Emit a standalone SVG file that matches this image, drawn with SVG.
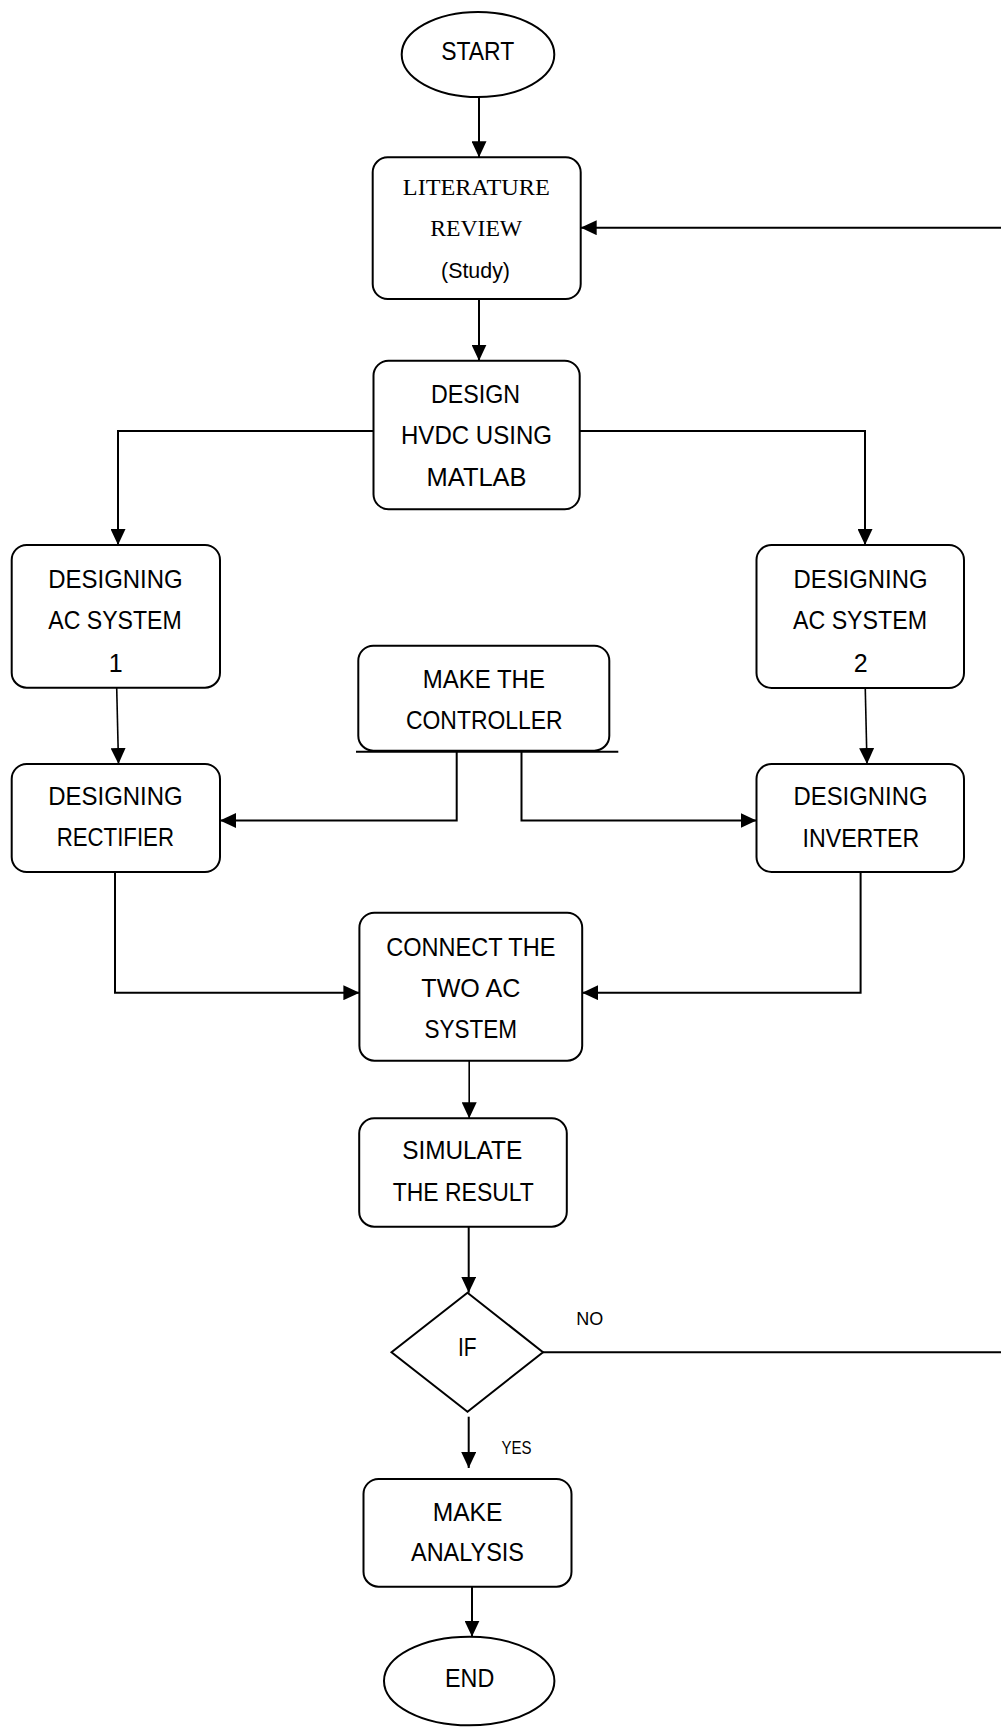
<svg xmlns="http://www.w3.org/2000/svg" width="1001" height="1729" viewBox="0 0 1001 1729">
  <style>
    .box{fill:#fff;stroke:#000;stroke-width:2}
    .conn{fill:none;stroke:#000;stroke-width:2}
    .thin{fill:none;stroke:#000;stroke-width:1.6}
    text{font-family:"Liberation Sans",Arial,sans-serif;font-size:25px;fill:#000;text-anchor:middle}
    .serif{font-family:"Liberation Serif","Times New Roman",serif;font-size:23px}
    .small{font-size:18px}
  </style>
  <defs>
    <marker id="arr" viewBox="0 0 16 15" refX="16" refY="7.5" markerWidth="16" markerHeight="15" markerUnits="userSpaceOnUse" orient="auto">
      <path d="M0,0 L16,7.5 L0,15 Z" fill="#000"/>
    </marker>
  </defs>
  <rect width="1001" height="1729" fill="#fff"/>

  <g id="connectors">
    <path class="conn" d="M479,97 V157.3" marker-end="url(#arr)"/>
    <path class="conn" d="M1001,227.7 H580.7" marker-end="url(#arr)"/>
    <path class="conn" d="M479,299 V360.7" marker-end="url(#arr)"/>
    <path class="conn" d="M373.5,431 H118 V545" marker-end="url(#arr)"/>
    <path class="conn" d="M579.7,431 H865 V545" marker-end="url(#arr)"/>
    <path class="thin" d="M116.7,687.7 L118.5,764" marker-end="url(#arr)"/>
    <path class="thin" d="M865,677 L867,764" marker-end="url(#arr)"/>
    <path class="conn" d="M456.7,751.7 V820.5 H220" marker-end="url(#arr)"/>
    <path class="conn" d="M521.5,751.7 V820.5 H756.5" marker-end="url(#arr)"/>
    <path class="conn" d="M115,872 V992.7 H359.4" marker-end="url(#arr)"/>
    <path class="conn" d="M860.6,872 V992.7 H582.2" marker-end="url(#arr)"/>
    <path class="thin" d="M469.2,1060.7 V1118.3" marker-end="url(#arr)"/>
    <path class="conn" d="M468.7,1226.7 V1292.7" marker-end="url(#arr)"/>
    <path class="conn" d="M543,1352.3 H1001"/>
    <path class="conn" d="M468.7,1416.7 V1468" marker-end="url(#arr)"/>
    <path class="conn" d="M472,1584 V1636.7" marker-end="url(#arr)"/>
  </g>

  <g id="start">
    <ellipse class="box" cx="478" cy="54.5" rx="76.3" ry="42.5"/>
    <text x="477.7" y="60" textLength="73" lengthAdjust="spacingAndGlyphs">START</text>
  </g>

  <g id="literature">
    <rect class="box" x="372.7" y="157.3" width="208" height="141.7" rx="15"/>
    <text class="serif" x="476.3" y="195" textLength="147" lengthAdjust="spacingAndGlyphs">LITERATURE</text>
    <text class="serif" x="476.2" y="235.7" textLength="92" lengthAdjust="spacingAndGlyphs">REVIEW</text>
    <text x="475.5" y="277.5" style="font-size:22px" textLength="69" lengthAdjust="spacingAndGlyphs">(Study)</text>
  </g>

  <g id="design">
    <rect class="box" x="373.5" y="360.7" width="206.2" height="148.6" rx="15"/>
    <text x="475.5" y="403.3" textLength="89" lengthAdjust="spacingAndGlyphs">DESIGN</text>
    <text x="476.5" y="444.3" textLength="151" lengthAdjust="spacingAndGlyphs">HVDC USING</text>
    <text x="476.6" y="485.7" textLength="100" lengthAdjust="spacingAndGlyphs">MATLAB</text>
  </g>

  <g id="ac1">
    <rect class="box" x="11.7" y="545" width="208.3" height="142.7" rx="15"/>
    <text x="115.5" y="588" textLength="134.4" lengthAdjust="spacingAndGlyphs">DESIGNING</text>
    <text x="115" y="629" textLength="133.4" lengthAdjust="spacingAndGlyphs">AC SYSTEM</text>
    <text x="115.8" y="671.5">1</text>
  </g>

  <g id="ac2">
    <rect class="box" x="756.5" y="545" width="207.5" height="143" rx="15"/>
    <text x="860.5" y="588" textLength="134" lengthAdjust="spacingAndGlyphs">DESIGNING</text>
    <text x="860" y="629" textLength="134" lengthAdjust="spacingAndGlyphs">AC SYSTEM</text>
    <text x="860.8" y="671.5">2</text>
  </g>

  <g id="controller">
    <rect class="box" x="358.3" y="645.7" width="251" height="105" rx="15"/>
    <line x1="356" y1="751.7" x2="618.3" y2="751.7" stroke="#000" stroke-width="2"/>
    <text x="483.8" y="687.5" textLength="122.3" lengthAdjust="spacingAndGlyphs">MAKE THE</text>
    <text x="484.3" y="729" textLength="156.7" lengthAdjust="spacingAndGlyphs">CONTROLLER</text>
  </g>

  <g id="rectifier">
    <rect class="box" x="11.7" y="764" width="208.3" height="108" rx="15"/>
    <text x="115.5" y="805" textLength="134.4" lengthAdjust="spacingAndGlyphs">DESIGNING</text>
    <text x="115.3" y="846.3" textLength="117.3" lengthAdjust="spacingAndGlyphs">RECTIFIER</text>
  </g>

  <g id="inverter">
    <rect class="box" x="756.5" y="764" width="207.5" height="108" rx="15"/>
    <text x="860.5" y="805" textLength="134" lengthAdjust="spacingAndGlyphs">DESIGNING</text>
    <text x="860.9" y="846.5" textLength="116.8" lengthAdjust="spacingAndGlyphs">INVERTER</text>
  </g>

  <g id="connect">
    <rect class="box" x="359.4" y="912.7" width="222.8" height="148" rx="15"/>
    <text x="470.8" y="955.7" textLength="169.2" lengthAdjust="spacingAndGlyphs">CONNECT THE</text>
    <text x="470.8" y="996.7" textLength="99" lengthAdjust="spacingAndGlyphs">TWO AC</text>
    <text x="470.8" y="1038.3" textLength="92.6" lengthAdjust="spacingAndGlyphs">SYSTEM</text>
  </g>

  <g id="simulate">
    <rect class="box" x="359.2" y="1118.3" width="207.6" height="108.4" rx="15"/>
    <text x="462.2" y="1159.3" textLength="120" lengthAdjust="spacingAndGlyphs">SIMULATE</text>
    <text x="463.3" y="1200.7" textLength="141" lengthAdjust="spacingAndGlyphs">THE RESULT</text>
  </g>

  <g id="decision">
    <polygon class="box" points="467.5,1292.7 543,1352.2 467.5,1411.7 391.5,1352.2"/>
    <text x="467.3" y="1355.7" textLength="18.6" lengthAdjust="spacingAndGlyphs">IF</text>
  </g>

  <g id="labels">
    <text class="small" x="589.8" y="1325" textLength="27" lengthAdjust="spacingAndGlyphs">NO</text>
    <text class="small" x="516.5" y="1454" textLength="30" lengthAdjust="spacingAndGlyphs">YES</text>
  </g>

  <g id="analysis">
    <rect class="box" x="363.5" y="1479" width="208" height="107.7" rx="15"/>
    <text x="467.5" y="1520.7" textLength="69.7" lengthAdjust="spacingAndGlyphs">MAKE</text>
    <text x="467.5" y="1561" textLength="113" lengthAdjust="spacingAndGlyphs">ANALYSIS</text>
  </g>

  <g id="end">
    <ellipse class="box" cx="469.2" cy="1681" rx="85.2" ry="44.3"/>
    <text x="469.7" y="1686.7" textLength="49.3" lengthAdjust="spacingAndGlyphs">END</text>
  </g>
</svg>
